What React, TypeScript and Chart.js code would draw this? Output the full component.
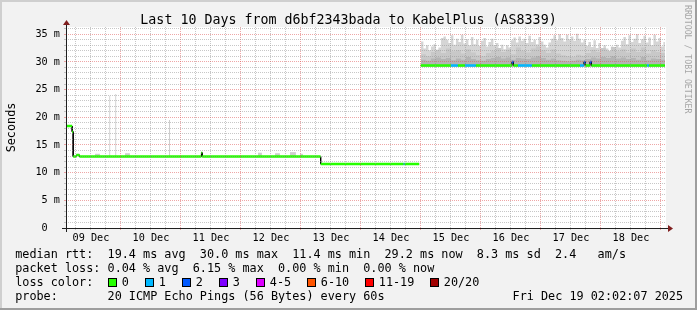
import React, { useEffect, useRef } from "react";
import { Chart, registerables } from "chart.js";

Chart.register(...registerables);

// ---------- data ----------
// x values are hours since 09 Dec 00:00; the graph spans 09 Dec 02:02 .. 19 Dec 02:02
const X_MIN = 2.035;
const X_MAX = 242.035;
const Y_MAX = 36.3;

const dayLabels = ["09 Dec", "10 Dec", "11 Dec", "12 Dec", "13 Dec", "14 Dec", "15 Dec", "16 Dec", "17 Dec", "18 Dec"];
const xGridStepHours = 6;
const yGridStepMs = 1;

// median rtt: sample i spans medianBounds[i] .. medianBounds[i+1]
const medianBounds = [2.035, 4.5, 4.9, 6.2, 7.4, 56.2, 56.5, 103.9, 137.0, 137.5, 143.3, 143.9, 156.0, 158.8, 161.6, 166.0, 180.4, 181.0, 182.8, 188.4, 207.6, 209.2, 209.8, 211.6, 212.2, 234.4, 235.2, 241.6];
const medianValues = [18.4, 17.4, 12.9, 13.2, 12.9, 13.6, 12.9, 11.55, 11.55, 11.55, null, 29.35, 29.35, 29.35, 29.35, 29.35, 30.0, 29.35, 29.35, 29.35, 29.35, 30.0, 29.35, 30.0, 29.35, 29.35, 29.35];
const medianLoss = [0, 0, 0, 0, 0, 0, 0, 0, 1, 0, 0, 0, 1, 0, 1, 0, 2, 0, 1, 0, 1, 2, 0, 2, 0, 1, 0];

// smoke (ping spread), last 4 days, hourly upper envelope
const smokeTopStart = 144;
const smokeTopStep = 1;
const smokeTop = [
  33.7, 32.4, 33.0, 32.1, 32.8, 33.2, 32.0, 32.6, 34.3, 34.6,
  34.0, 33.4, 34.8, 33.1, 34.2, 33.6, 34.9, 33.3, 34.1, 33.0,
  34.5, 33.2, 34.0, 32.9, 33.8, 34.3, 32.8, 33.6, 34.2, 33.0,
  33.4, 32.5, 33.1, 32.3, 33.0, 32.6, 33.9, 34.4, 33.5, 34.6,
  33.8, 34.2, 33.4, 34.7, 33.6, 34.0, 33.2, 34.5, 33.7, 33.1,
  32.6, 33.5, 34.2, 34.8, 33.9, 35.0, 34.3, 33.7, 34.9, 34.1,
  34.6, 33.8, 35.1, 34.2, 33.5, 34.0, 32.9, 33.6, 32.7, 33.9,
  32.5, 33.4, 32.1, 33.0, 32.4, 31.9, 32.8, 32.2, 33.1, 32.6,
  33.8, 34.5, 33.2, 34.8, 33.6, 34.2, 35.0, 33.4, 34.1, 34.7,
  33.5, 34.4, 33.0, 34.9, 33.7, 34.3, 32.8, 33.6,
];
const smokeBandStart = 144;
const smokeBandStep = 2;
const smokeMid = [
  31.4, 31.0, 31.8, 32.2, 31.6, 32.4, 31.9, 32.1, 31.5, 32.3,
  31.7, 31.2, 31.0, 31.6, 32.0, 32.5, 31.8, 32.2, 31.4, 32.6,
  32.0, 31.7, 32.4, 32.8, 32.1, 31.6, 32.3, 31.5, 31.2, 31.0,
  30.9, 31.3, 31.1, 31.6, 32.2, 31.8, 32.5, 32.0, 32.7, 31.9,
  32.3, 31.7, 32.4, 31.8, 32.6, 31.5, 32.1, 31.8, 31.6,
];
const smokeDark = [
  30.4, 30.2, 30.6, 30.8, 30.5, 30.7, 30.3, 30.6, 30.4, 30.9,
  30.5, 30.3, 30.2, 30.5, 30.7, 30.9, 30.6, 30.8, 30.4, 30.7,
  30.6, 30.5, 30.8, 31.0, 30.7, 30.4, 30.6, 30.3, 30.2, 30.1,
  30.2, 30.4, 30.3, 30.5, 30.8, 30.6, 30.9, 30.7, 31.0, 30.6,
  30.8, 30.5, 30.7, 30.4, 30.9, 30.3, 30.6, 30.5, 30.4,
];
const smokeEnd = 241.6;
const smokeBase = 29.1;

// occasional smoke spikes in the first days
const spikeStart = [13.6, 19.3, 21.7, 25.6, 43.2, 78.8, 85.6, 91.6, 95.6];
const spikeEnd = [15.6, 19.8, 22.2, 27.6, 43.7, 80.4, 87.6, 94.0, 96.8];
const spikeTop = [13.4, 23.9, 24.2, 13.5, 19.5, 13.6, 13.5, 13.7, 13.4];
const spikeBase = 12.9;

const lossLabels = ["0", "1", "2", "3", "4-5", "6-10", "11-19", "20/20"];
const lossColors = ["#26ff00", "#00b8ff", "#0059ff", "#7e00ff", "#dd00ff", "#ff5500", "#ff0000", "#a10000"];

const titleText = "Last 10 Days from d6bf2343bada to KabelPlus (AS8339)";
const yTitle = "Seconds";
const medianLegend = "median rtt:  19.4 ms avg  30.0 ms max  11.4 ms min  29.2 ms now  8.3 ms sd  2.4   am/s";
const lossLegend = "packet loss: 0.04 % avg  6.15 % max  0.00 % min  0.00 % now";
const lossColorLabel = "loss color:";
const probeLegend = "probe:       20 ICMP Echo Pings (56 Bytes) every 60s";
const dateStamp = "Fri Dec 19 02:02:07 2025";
const watermark = "RRDTOOL / TOBI OETIKER";

// ---------- helpers ----------
const MONO = '"DejaVu Sans Mono", monospace';
const GRID = "rgba(143,143,143,0.5)";
const MGRID = "rgba(222,79,79,0.5)";

type P = { x: number; y: number | null };

function stepPoints(start: number, step: number, vals: number[], end: number): P[] {
  const pts: P[] = [];
  vals.forEach((v, i) => {
    const x0 = start + i * step;
    const x1 = i === vals.length - 1 ? end : start + (i + 1) * step;
    pts.push({ x: x0, y: v }, { x: x1, y: v });
  });
  return pts;
}

function segPoints(starts: number[], ends: number[], vals: number[]): P[] {
  const pts: P[] = [];
  starts.forEach((s, i) => {
    pts.push({ x: s, y: vals[i] }, { x: ends[i], y: vals[i] }, { x: ends[i], y: null });
  });
  return pts;
}

function medianBlack(): P[] {
  const pts: P[] = [];
  medianValues.forEach((v, i) => {
    if (v === null) {
      pts.push({ x: medianBounds[i], y: null });
    } else {
      pts.push({ x: medianBounds[i], y: v }, { x: medianBounds[i + 1], y: v });
    }
  });
  return pts;
}

function medianForLoss(cls: number): P[] {
  const pts: P[] = [];
  medianValues.forEach((v, i) => {
    if (v === null || medianLoss[i] !== cls) return;
    pts.push({ x: medianBounds[i], y: v }, { x: medianBounds[i + 1], y: v }, { x: medianBounds[i + 1], y: null });
  });
  return pts;
}

const xTicks: number[] = [];
for (let h = xGridStepHours; h <= X_MAX; h += xGridStepHours) xTicks.push(h);
const yTicks: number[] = [];
for (let v = 0; v <= Y_MAX; v += yGridStepMs) yTicks.push(v);

const rrdPlugin = {
  id: "rrdFrame",
  beforeDraw(chart: any) {
    const { ctx, chartArea: a, width, height } = chart;
    ctx.save();
    ctx.fillStyle = "#f2f2f2";
    ctx.fillRect(0, 0, width, height);
    ctx.fillStyle = "#cfcfcf";
    ctx.fillRect(0, 0, width, 2);
    ctx.fillRect(0, 0, 2, height);
    ctx.fillStyle = "#9e9e9e";
    ctx.fillRect(0, height - 2, width, 2);
    ctx.fillRect(width - 2, 0, 2, height);
    ctx.fillStyle = "#ffffff";
    ctx.fillRect(a.left, a.top, a.right - a.left, a.bottom - a.top);
    ctx.restore();
  },
  afterDraw(chart: any) {
    const { ctx, chartArea: a, width } = chart;
    ctx.save();
    // axes
    const ax = Math.round(a.left) + 0.5;
    const ay = Math.round(a.bottom) + 0.5;
    ctx.strokeStyle = "rgb(31,31,31)";
    ctx.lineWidth = 1;
    ctx.beginPath();
    ctx.moveTo(a.left - 4, ay);
    ctx.lineTo(a.right + 4, ay);
    ctx.moveTo(ax, a.bottom + 4);
    ctx.lineTo(ax, a.top - 4);
    ctx.stroke();
    ctx.fillStyle = "rgb(128,31,31)";
    ctx.beginPath();
    ctx.moveTo(a.right + 2, ay - 3.5);
    ctx.lineTo(a.right + 7, ay);
    ctx.lineTo(a.right + 2, ay + 3.5);
    ctx.closePath();
    ctx.fill();
    ctx.beginPath();
    ctx.moveTo(ax - 3.5, a.top - 2);
    ctx.lineTo(ax, a.top - 7);
    ctx.lineTo(ax + 3.5, a.top - 2);
    ctx.closePath();
    ctx.fill();

    // title
    ctx.fillStyle = "#000";
    ctx.textBaseline = "alphabetic";
    ctx.font = `13.3px ${MONO}`;
    ctx.textAlign = "center";
    ctx.fillText(titleText, width / 2, 24);

    // y title
    ctx.font = `11.8px ${MONO}`;
    ctx.save();
    ctx.translate(14.5, 127.5);
    ctx.rotate(-Math.PI / 2);
    ctx.fillText(yTitle, 0, 0);
    ctx.restore();

    // legend
    ctx.textAlign = "left";
    const lx = 15.2;
    ctx.fillText(medianLegend, lx, 258);
    ctx.fillText(lossLegend, lx, 272);
    ctx.fillText(lossColorLabel, lx, 286);
    ctx.fillText(probeLegend, lx, 300);
    ctx.fillText(dateStamp, 512.6, 300);

    const boxX = [108, 145, 182, 219, 256, 307, 365, 430];
    lossLabels.forEach((lab, i) => {
      const bx = boxX[i];
      ctx.fillStyle = lossColors[i];
      ctx.fillRect(bx, 278, 9, 9);
      ctx.strokeStyle = "#000";
      ctx.strokeRect(bx + 0.5, 278.5, 8, 8);
      ctx.fillStyle = "#000";
      ctx.fillText(lab, bx + 13.8, 286);
    });

    // watermark
    ctx.save();
    ctx.translate(684.5, 5);
    ctx.rotate(Math.PI / 2);
    ctx.font = `8.2px ${MONO}`;
    ctx.fillStyle = "#a6a6a6";
    ctx.fillText(watermark, 0, 0);
    ctx.restore();

    ctx.restore();
  },
};

function lineDs(label: string, data: P[], extra: any) {
  return {
    label,
    data,
    pointRadius: 0,
    borderWidth: 0,
    borderColor: "rgba(0,0,0,0)",
    spanGaps: false,
    tension: 0,
    ...extra,
  };
}

export default function App() {
  const ref = useRef<HTMLCanvasElement>(null);

  useEffect(() => {
    if (!ref.current) return;
    const datasets: any[] = [
      lineDs("smoke top", stepPoints(smokeTopStart, smokeTopStep, smokeTop, smokeEnd), {
        fill: { value: smokeBase },
        backgroundColor: "#d5d5d5",
        order: 10,
      }),
      lineDs("smoke mid", stepPoints(smokeBandStart, smokeBandStep, smokeMid, smokeEnd), {
        fill: { value: smokeBase },
        backgroundColor: "#c8c8c8",
        order: 9,
      }),
      lineDs("smoke dark", stepPoints(smokeBandStart, smokeBandStep, smokeDark, smokeEnd), {
        fill: { value: smokeBase },
        backgroundColor: "#b4b4b4",
        order: 8,
      }),
      lineDs("spikes", segPoints(spikeStart, spikeEnd, spikeTop), {
        fill: { value: spikeBase },
        backgroundColor: "#cdcdcd",
        order: 7,
      }),
      lineDs("median", medianBlack(), {
        borderWidth: 1,
        borderColor: "#000000",
        fill: false,
        order: 5,
      }),
    ];
    lossColors.forEach((c, i) => {
      datasets.push(
        lineDs("loss " + lossLabels[i], medianForLoss(i), {
          borderWidth: 2.5,
          borderColor: c,
          borderCapStyle: "butt",
          fill: false,
          order: 1,
        })
      );
    });

    const chart = new Chart(ref.current, {
      type: "line",
      data: { datasets },
      plugins: [rrdPlugin],
      options: {
        animation: false,
        responsive: false,
        devicePixelRatio: 1,
        events: [],
        layout: { padding: { left: 0, right: 31, top: 27, bottom: 0 } },
        plugins: {
          legend: { display: false },
          tooltip: { enabled: false },
          title: { display: false },
        },
        scales: {
          x: {
            type: "linear",
            min: X_MIN,
            max: X_MAX,
            afterBuildTicks: (s: any) => {
              s.ticks = xTicks.map((v) => ({ value: v }));
            },
            afterFit: (s: any) => {
              s.height = 82;
            },
            grid: {
              z: 1,
              lineWidth: 1,
              color: (c: any) => (c.tick && c.tick.value % 24 === 0 ? MGRID : GRID),
              tickColor: (c: any) => (c.tick && c.tick.value % 24 === 0 ? MGRID : GRID),
              tickLength: 2,
              drawTicks: true,
              borderDash: [1, 1],
            },
            border: { display: false, dash: [1, 1] },
            ticks: {
              autoSkip: false,
              maxRotation: 0,
              minRotation: 0,
              padding: 2,
              color: "#000",
              font: { family: MONO, size: 10.2 },
              callback: (v: any) => {
                const n = Number(v);
                if (n % 24 !== 12) return "";
                return dayLabels[(n - 12) / 24] ?? "";
              },
            },
          },
          y: {
            type: "linear",
            min: 0,
            max: Y_MAX,
            afterBuildTicks: (s: any) => {
              s.ticks = yTicks.map((v) => ({ value: v }));
            },
            afterFit: (s: any) => {
              s.width = 66;
            },
            grid: {
              z: 1,
              lineWidth: 1,
              color: (c: any) => (c.tick && c.tick.value % 5 === 0 ? MGRID : GRID),
              tickColor: (c: any) => (c.tick && c.tick.value % 5 === 0 ? MGRID : GRID),
              tickLength: 2,
              drawTicks: true,
              borderDash: [1, 1],
            },
            border: { display: false, dash: [1, 1] },
            ticks: {
              autoSkip: false,
              padding: 4,
              color: "#000",
              font: { family: MONO, size: 10.2 },
              callback: (v: any) => {
                const n = Number(v);
                if (n % 5 !== 0) return "";
                return n === 0 ? "0  " : `${n} m`;
              },
            },
          },
        },
      } as any,
    });
    return () => chart.destroy();
  }, []);

  return (
    <div style={{ position: "absolute", left: 0, top: 0, width: 697, height: 310 }}>
      <canvas ref={ref} width={697} height={310} style={{ display: "block", width: 697, height: 310 }} />
    </div>
  );
}
